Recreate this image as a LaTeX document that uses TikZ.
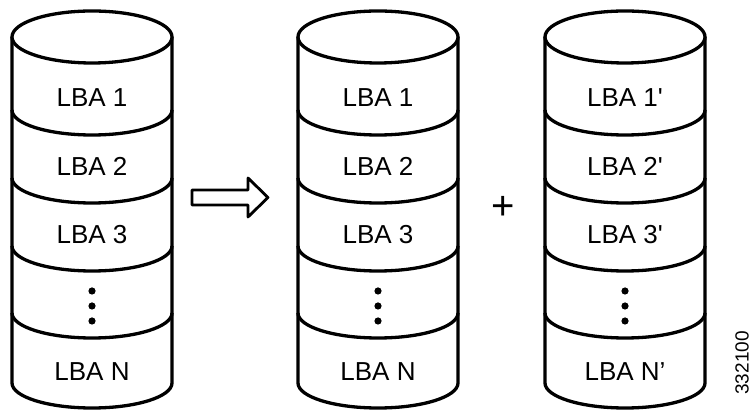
\documentclass[tikz,border=0pt]{standalone}
\usepackage{fontspec}
\setmainfont{Liberation Sans}
\begin{document}
\begin{tikzpicture}[x=1pt,y=1pt,line join=round,
  body/.style={draw=black,line width=3.3pt,fill=white},
  rim/.style={draw=black,line width=3.3pt},
  lbl/.style={font=\fontsize{26}{30}\selectfont,inner sep=0pt},
  dotmark/.style={fill=black,draw=none},
  bigarrow/.style={draw=black,line width=2.8pt,fill=white},
  tag/.style={font=\fontsize{19}{23}\selectfont,inner sep=0pt}]
\useasboundingbox (0,0) rectangle (752,411);

% one disk stack: #1 = centre x, #2 = name prefix, #3..#6 = labels
\newcommand\diskstack[6]{%
  \draw[body] (#1-80,374) -- (#1-80,28)
     arc[start angle=180,end angle=360,x radius=80,y radius=25]
     -- (#1+80,374);
  \draw[body] (#1,374) ellipse[x radius=80,y radius=26];
  \foreach \sy in {301,233,165,98}
    \draw[rim] (#1-80,\sy) arc[start angle=180,end angle=360,x radius=80,y radius=25];
  \node[lbl] (#2a) at (#1,313) {#3};
  \node[lbl] (#2b) at (#1,245) {#4};
  \node[lbl] (#2c) at (#1,176) {#5};
  \node[lbl] (#2n) at (#1,39) {#6};
  \foreach \dy in {120,105,90}
    \fill[dotmark] (#1,\dy) circle[radius=3.6];
}

\diskstack{92}{src}{LBA 1}{LBA 2}{LBA 3}{LBA N}
\diskstack{378}{dst}{LBA 1}{LBA 2}{LBA 3}{LBA N}
\diskstack{625}{cpy}{LBA 1\textquotesingle}{LBA 2\textquotesingle}{LBA 3\textquotesingle}{LBA N’}

% hollow block arrow between the stacks
\draw[bigarrow] (192,206) -- (248,206) -- (248,194) -- (268,213.5)
   -- (248,233) -- (248,221) -- (192,221) -- cycle;

\node[font=\fontsize{40}{44}\selectfont,inner sep=0pt] (plus) at (503,203) {+};

\node[tag,rotate=90,anchor=east] (figid) at (742,80) {332100};
\end{tikzpicture}
\end{document}
